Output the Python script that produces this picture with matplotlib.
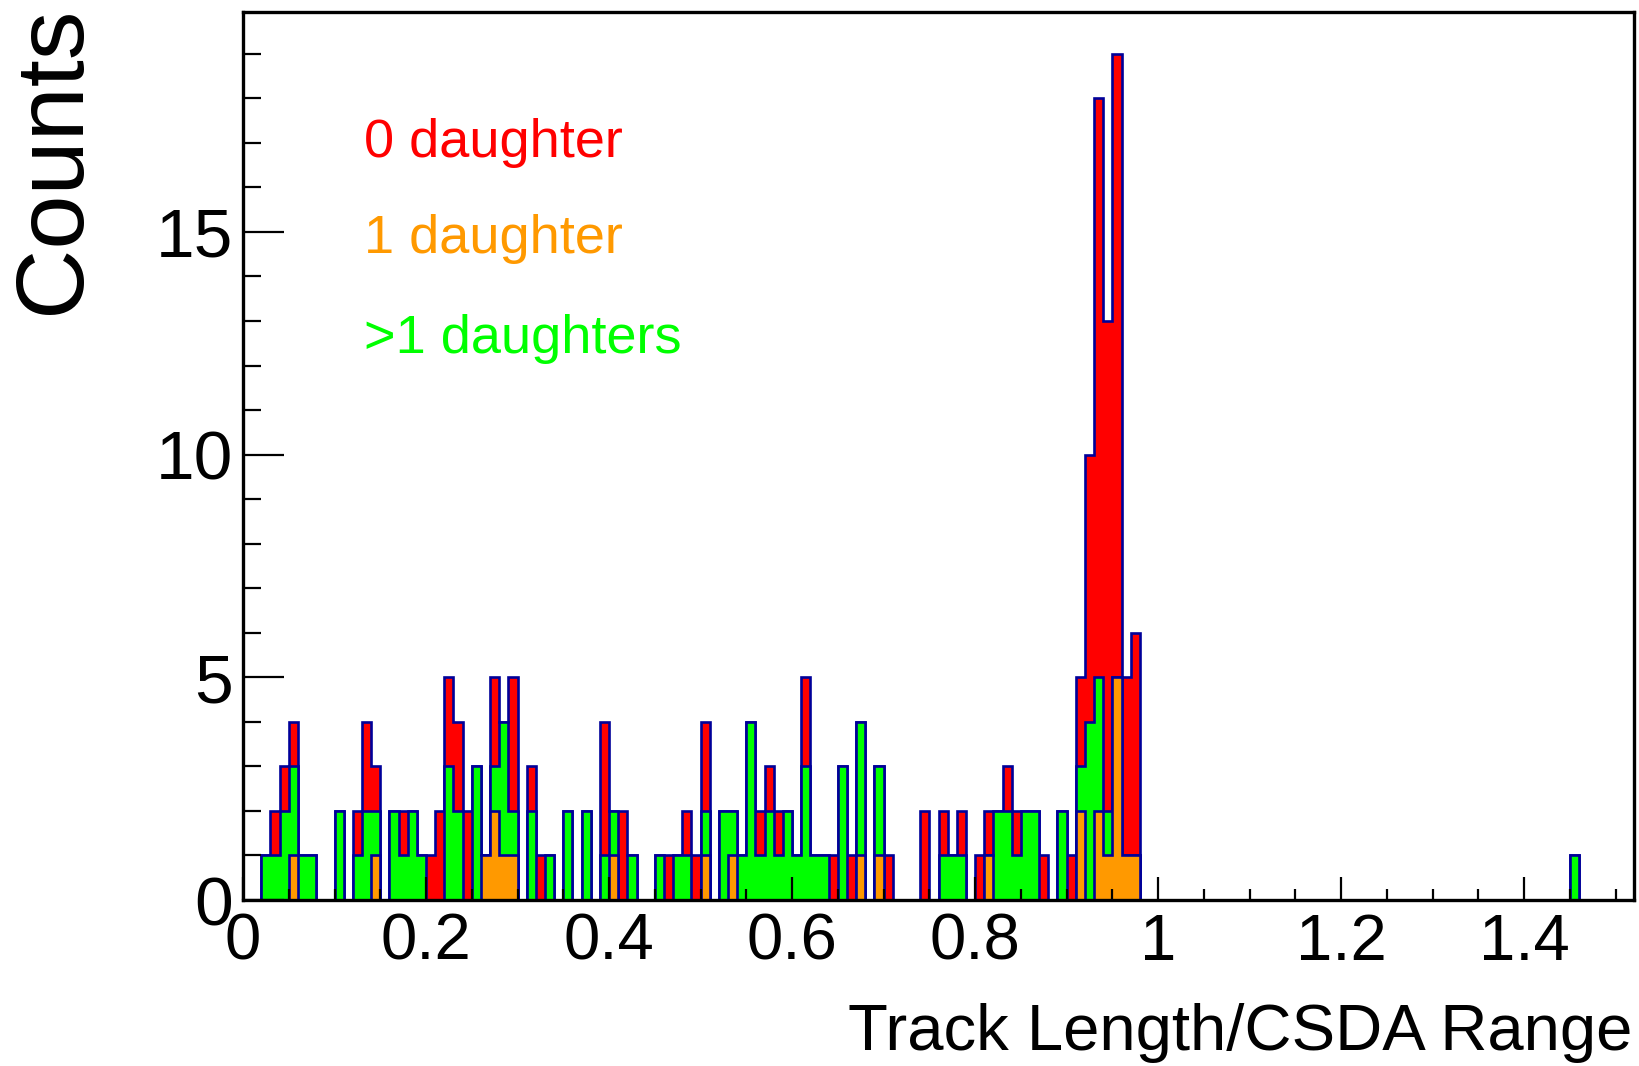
import matplotlib
matplotlib.use("Agg")
import matplotlib.pyplot as plt
import numpy as np
from matplotlib.ticker import MultipleLocator, FuncFormatter

plt.rcParams['font.family'] = ['Liberation Sans', 'DejaVu Sans']

# ---------------- data (bin width 0.01, range 0 - 1.52) ----------------
bin_width = 0.01
x_min, x_max = 0.0, 1.52
y_max = 19.95

# counts per bin, bins 0.00-0.01 ... 0.99-1.00
one_daughter = [
    0, 0, 0, 0, 0, 1, 0, 0, 0, 0,
    0, 0, 0, 0, 1, 0, 0, 0, 0, 0,
    0, 0, 0, 0, 0, 0, 1, 2, 1, 1,
    0, 0, 0, 0, 0, 0, 0, 0, 0, 0,
    1, 0, 0, 0, 0, 0, 0, 0, 0, 0,
    1, 0, 0, 1, 0, 0, 0, 0, 0, 0,
    0, 0, 0, 0, 0, 0, 0, 1, 0, 1,
    0, 0, 0, 0, 0, 0, 0, 0, 0, 0,
    0, 1, 0, 0, 0, 0, 0, 0, 0, 0,
    0, 2, 0, 2, 1, 5, 1, 1, 0, 0,
]
multi_daughters = [
    0, 0, 1, 1, 2, 2, 1, 1, 0, 0,
    2, 0, 1, 2, 1, 0, 2, 1, 2, 1,
    0, 0, 3, 2, 0, 3, 0, 1, 3, 1,
    0, 2, 0, 1, 0, 2, 0, 2, 0, 1,
    1, 0, 1, 0, 0, 1, 0, 1, 1, 0,
    1, 0, 2, 1, 1, 4, 1, 2, 1, 2,
    1, 3, 1, 1, 0, 3, 0, 3, 0, 2,
    0, 0, 0, 0, 0, 0, 1, 1, 1, 0,
    0, 0, 2, 2, 1, 2, 2, 0, 0, 2,
    0, 1, 4, 3, 1, 0, 0, 0, 0, 0,
]
zero_daughter = [
    0, 0, 0, 1, 1, 1, 0, 0, 0, 0,
    0, 0, 1, 2, 1, 0, 0, 1, 0, 0,
    1, 2, 2, 2, 2, 0, 0, 2, 0, 3,
    0, 1, 1, 0, 0, 0, 0, 0, 0, 3,
    0, 2, 0, 0, 0, 0, 1, 0, 1, 1,
    2, 0, 0, 0, 0, 0, 1, 1, 1, 0,
    0, 2, 0, 0, 1, 0, 1, 0, 0, 0,
    1, 0, 0, 0, 2, 0, 1, 0, 1, 0,
    1, 1, 0, 1, 1, 0, 0, 1, 0, 0,
    1, 2, 6, 13, 11, 14, 4, 5, 0, 0,
]
# bins 1.00-1.01 ... 1.51-1.52 (only one entry, at 1.45-1.46, >1 daughters)
one_daughter_tail = [0] * 52
multi_daughters_tail = [0] * 45 + [1] + [0] * 6
zero_daughter_tail = [0] * 52

labels = ["0 daughter", "1 daughter", ">1 daughters"]
col_red = "#ff0000"
col_orange = "#ff9900"
col_green = "#00ff00"
line_col = "#000099"

# ---------------- build stack ----------------
h1 = np.array(one_daughter + one_daughter_tail, dtype=float)
hm = np.array(multi_daughters + multi_daughters_tail, dtype=float)
h0 = np.array(zero_daughter + zero_daughter_tail, dtype=float)
nb = len(h1)
edges = x_min + bin_width * np.arange(nb + 1)

c_orange = h1
c_green = h1 + hm
c_total = h1 + hm + h0

W, H = 1639, 1066
fig = plt.figure(figsize=(W / 100, H / 100), dpi=100)
L, R, T, B = 243, 1634, 11.5, 900
ax = fig.add_axes([L / W, 1 - B / H, (R - L) / W, (B - T) / H])

for vals, col in [(c_total, col_red), (c_green, col_green), (c_orange, col_orange)]:
    ax.stairs(vals, edges, fill=True, facecolor=col, edgecolor=line_col,
              linewidth=1.9, baseline=0)

ax.set_xlim(x_min, x_max)
ax.set_ylim(0, y_max)

for s in ax.spines.values():
    s.set_linewidth(2.4)
    s.set_zorder(5)

ax.xaxis.set_major_locator(MultipleLocator(0.2))
ax.xaxis.set_minor_locator(MultipleLocator(0.05))
ax.yaxis.set_major_locator(MultipleLocator(5))
ax.yaxis.set_minor_locator(MultipleLocator(1))
ax.xaxis.set_major_formatter(FuncFormatter(lambda v, p: f"{v:g}"))
ax.yaxis.set_major_formatter(FuncFormatter(lambda v, p: f"{v:g}"))

ax.tick_params(axis='x', which='major', direction='in', length=16.5, width=1.6,
               labelsize=47, pad=9, top=False)
ax.tick_params(axis='x', which='minor', direction='in', length=8, width=1.6, top=False)
ax.tick_params(axis='y', which='major', direction='in', length=29.5, width=1.6,
               labelsize=50, pad=7, right=False)
ax.tick_params(axis='y', which='minor', direction='in', length=13, width=1.6, right=False)

# axis titles
fig.text(54 / W, 1 - 6 / H, "Counts", rotation=90, ha='center', va='top',
         fontsize=70)
fig.text(1632 / W, 1 - 1050 / H, "Track Length/CSDA Range", ha='right',
         va='baseline', fontsize=47)

# legend texts
for lab, col, yb in [(labels[0], col_red, 157), (labels[1], col_orange, 253),
                     (labels[2], col_green, 353)]:
    fig.text(364 / W, 1 - yb / H, lab, color=col, ha='left', va='baseline',
             fontsize=39)

fig.savefig("out.png", dpi=100)
